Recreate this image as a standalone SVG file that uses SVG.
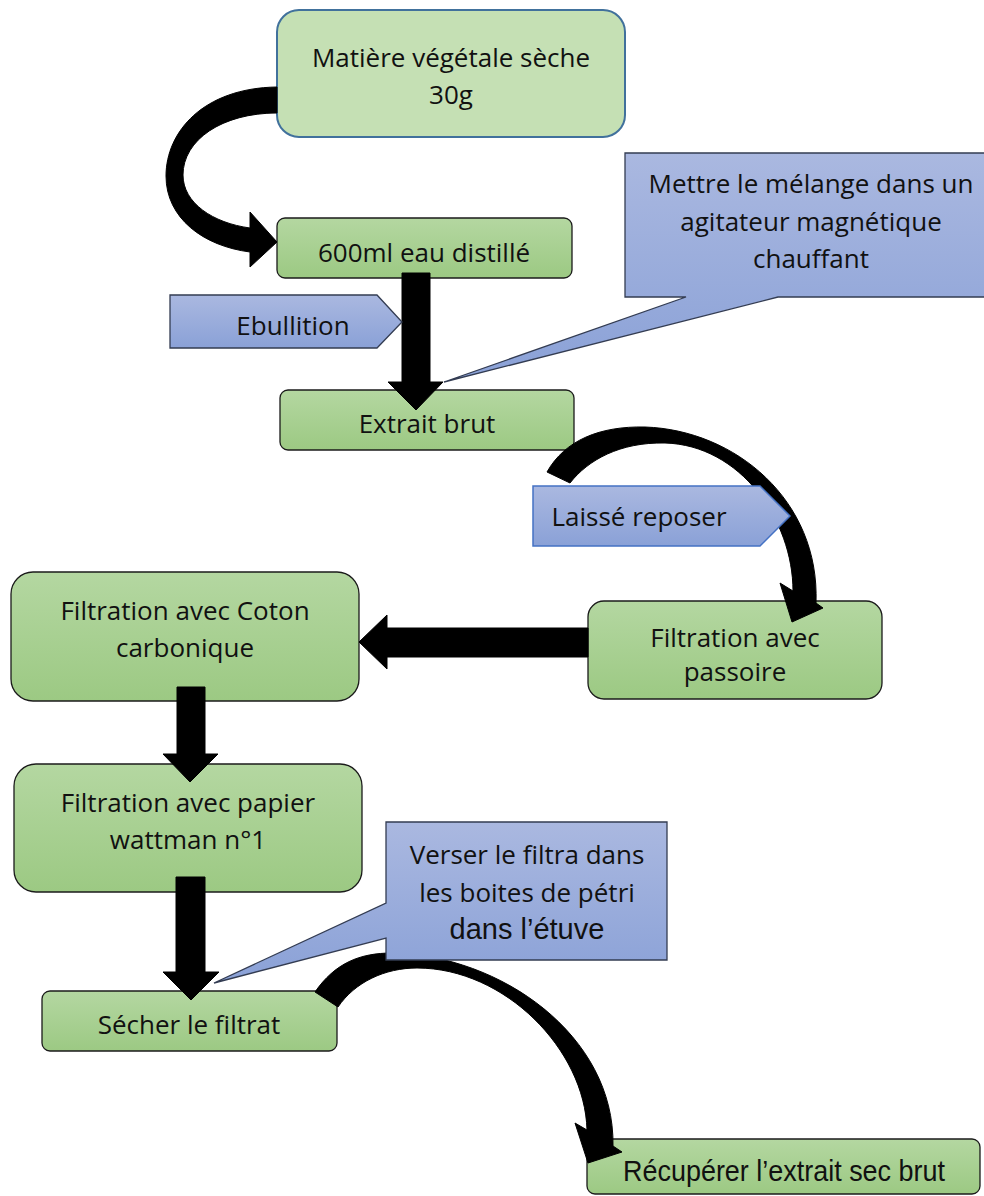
<svg xmlns="http://www.w3.org/2000/svg" width="984" height="1196" viewBox="0 0 984 1196">
<defs>
<linearGradient id="gGreen" x1="0" y1="0" x2="0" y2="1">
<stop offset="0" stop-color="#B4D7A1"/>
<stop offset="1" stop-color="#9CC983"/>
</linearGradient>
<linearGradient id="gBlue" x1="0" y1="0" x2="0" y2="1">
<stop offset="0" stop-color="#AAB8E0"/>
<stop offset="1" stop-color="#8AA1D7"/>
</linearGradient>
<style>
.box{fill:url(#gGreen);stroke:#1b1b1b;stroke-width:1.3}
.blue{fill:url(#gBlue);stroke:#333c52;stroke-width:1.3}
.t{font-family:"Open Sans","Noto Sans",sans-serif;font-size:26px;fill:#111;text-anchor:middle}
.a{font-family:"Liberation Sans",Arial,sans-serif;fill:#111;text-anchor:middle}
.arr{fill:#000;stroke:#000;stroke-width:1}
</style>
</defs>
<rect width="984" height="1196" fill="#fff"/>

<g id="n1">
<rect x="277" y="10" width="348" height="127" rx="22" fill="#C5E0B4" stroke="#41719C" stroke-width="2"/>
<text class="t" x="451" y="67">Matière végétale sèche</text>
<text class="t" x="451" y="104">30g</text>
</g>
<g id="n2">
<rect class="box" x="277" y="218" width="295" height="60" rx="8"/>
<text class="t" x="424" y="262">600ml eau distillé</text>
</g>
<g id="n3">
<rect class="box" x="280" y="390" width="294" height="60" rx="8"/>
<text class="t" x="427" y="433">Extrait brut</text>
</g>
<g id="n4">
<rect class="box" x="588" y="601" width="294" height="98" rx="16"/>
<text class="t" x="735" y="647">Filtration avec</text>
<text class="t" x="735" y="681">passoire</text>
</g>
<g id="n5">
<rect class="box" x="11" y="572" width="348" height="129" rx="22"/>
<text class="t" x="185" y="620">Filtration avec Coton</text>
<text class="t" x="185" y="657">carbonique</text>
</g>
<g id="n6">
<rect class="box" x="14" y="764" width="348" height="128" rx="22"/>
<text class="t" x="188" y="812">Filtration avec papier</text>
<text class="t" x="188" y="849">wattman n°1</text>
</g>
<g id="n7">
<rect class="box" x="42" y="991" width="295" height="60" rx="8"/>
<text class="t" x="189" y="1034">Sécher le filtrat</text>
</g>
<g id="n8">
<rect class="box" x="587" y="1139" width="393" height="55" rx="8"/>
<text class="a" x="784" y="1181" font-size="29" textLength="322" lengthAdjust="spacingAndGlyphs">Récupérer l’extrait sec brut</text>
</g>

<g id="connectors">
<path class="arr" d="M277,87 C203,88 166,132 166,176 C166,218 203,246 250,252 L250,267 L277,242 L250,212 L250,228 C213,223 183,203 183,175 C183,140 222,113 277,113 Z"/>
<path class="arr" d="M402,273 L430,273 L430,382 L443,382 L416,410 L388,382 L402,382 Z"/>
<path class="arr" d="M547,472 C565,440 600,426 645,427 C735,430 820,500 816,603 L823,608 L792,622 L780,583 L793,591 C793,520 740,445 665,443 C620,442 588,460 570,483 Z"/>
<path class="arr" d="M588,628 L588,657 L387,657 L387,669 L359,642 L387,615 L387,628 Z"/>
<path class="arr" d="M177,687 L205,687 L205,754 L218,754 L190,782 L163,754 L177,754 Z"/>
<path class="arr" d="M176,877 L205,877 L205,972 L219,972 L191,1000 L163,972 L176,972 Z"/>
<path class="arr" d="M315,992 C335,963 360,953 392,953 C500,955 615,1035 613,1146 L622,1152 L588,1163 L575,1123 L587,1130 C585,1050 505,968 417,968 C385,968 355,982 338,1007 Z"/>
</g>

<g id="c1">
<path class="blue" d="M625,153 L998,153 L998,297 L778,297 L444,382 L686,297 L625,297 Z"/>
<text class="t" x="811" y="193">Mettre le mélange dans un</text>
<text class="t" x="811" y="231">agitateur magnétique</text>
<text class="t" x="811" y="268">chauffant</text>
</g>
<g id="l1">
<path class="blue" d="M170,295 L377,295 L402,322 L377,348 L170,348 Z"/>
<text class="t" x="293" y="335">Ebullition</text>
</g>
<g id="l2">
<path d="M533,486 L760,486 L790,516 L760,546 L533,546 Z" fill="url(#gBlue)" stroke="#4472C4" stroke-width="1.5"/>
<text class="t" x="639" y="526">Laissé reposer</text>
</g>
<g id="c2">
<path class="blue" d="M386,822 L667,822 L667,960 L386,960 L386,938 L214,983 L386,903 Z"/>
<text class="t" x="527" y="864">Verser le filtra dans</text>
<text class="t" x="527" y="902">les boites de pétri</text>
<text class="a" x="527" y="939" font-size="29">dans l’étuve</text>
</g>
</svg>
